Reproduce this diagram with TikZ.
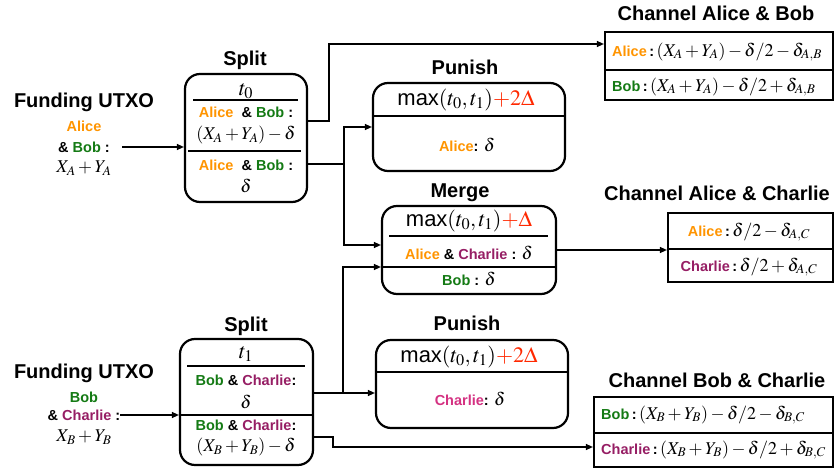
\documentclass[tikz,border=0pt]{standalone}
\usepackage{mathptmx}
\usepackage{fontspec}
\setmainfont{Liberation Serif}
\setsansfont{Liberation Sans}
\usetikzlibrary{arrows.meta}
\definecolor{alice}{RGB}{255,148,0}
\definecolor{bob}{RGB}{20,122,20}
\definecolor{charlie}{RGB}{150,30,100}
\definecolor{charliep}{RGB}{212,50,130}
\definecolor{dred}{RGB}{255,40,0}
\newcommand\colA{\color{alice}}
\newcommand\colB{\color{bob}}
\newcommand\colC{\color{charlie}}
\newcommand\colP{\color{charliep}}
\newcommand\colK{\color{black}}
\newcommand\Mm[1]{{\fontsize{18}{20}\selectfont$#1$}}
\newcommand\Mc[1]{{\fontsize{18}{20}\selectfont$#1$}}
\newcommand\MaxT[1]{{\fontsize{22}{24}\selectfont\textsf{max}$(t_0,t_1)$\textcolor{dred}{$+#1\Delta$}}}
\tikzset{
  lbl/.style={inner sep=0, font=\fontsize{14.5}{16}\sffamily\bfseries\selectfont},
  mth/.style={inner sep=0, font=\fontsize{18}{20}\selectfont},
  ttl/.style={inner sep=0, font=\fontsize{20}{22}\sffamily\bfseries\selectfont},
  rbox/.style={draw, line width=2.2pt, rounded corners=15pt, inner sep=0},
  cbox/.style={draw, line width=2.2pt, inner sep=0},
  sep/.style={line width=1.4pt},
  ln/.style={line width=1.3pt},
  arr/.style={line width=1.3pt, -{Triangle[length=7pt,width=6pt]}}
}
\begin{document}
\begin{tikzpicture}[x=1pt,y=-1pt]
\useasboundingbox (0,0) rectangle (835,470);

% ---------- Funding A ----------
\node[ttl] (tFA) at (84,102) {Funding UTXO};
\node[lbl] (fa1) at (84,126) {\colA Alice};
\node[lbl] (fa2) at (84,147) {\& \colB Bob \colK:};
\node[mth] (fa3) at (84,168) {$X_A+Y_A$};

% ---------- Split A ----------
\node[ttl] (tSA) at (245,60) {Split};
\node[rbox, minimum width=122pt, minimum height=128pt] (splitA) at (246,138) {};
\node[mth] (sa0) at (246,91) {\fontsize{22}{24}\selectfont$t_0$};
\draw[sep] (193,100) -- (298,100);
\node[lbl] (sa1) at (246,112) {\colA Alice \ \colK\& \colB Bob \colK:};
\node[mth] (sa2) at (246,135) {$(X_A+Y_A)-\delta$};
\draw[sep] (188,151) -- (301,151);
\node[lbl] (sa3) at (246,165) {\colA Alice \ \colK\& \colB Bob \colK:};
\node[mth] (sa4) at (246,186) {$\delta$};

% ---------- Punish A ----------
\node[ttl] (tPA) at (465,67) {Punish};
\node[rbox, minimum width=192pt, minimum height=88pt] (punA) at (469,127) {};
\node[mth] (pa0) at (466,100) {\MaxT{2}};
\draw[sep] (punA.west |- 0,116) -- (punA.east |- 0,116);
\node[lbl] (pa1) at (467,145) {\colA Alice\colK: \Mm{\delta}};

% ---------- Merge ----------
\node[ttl] (tM) at (460,193) {Merge};
\node[rbox, minimum width=174pt, minimum height=88pt] (merge) at (469,250) {};
\node[mth] (m0) at (469,221) {\MaxT{}};
\draw[sep] (389,236) -- (548,236);
\node[lbl] (m1) at (469,253) {\colA Alice \colK\& \colC Charlie \colK: \Mm{\delta}};
\draw[sep] (merge.west |- 0,267) -- (merge.east |- 0,267);
\node[lbl] (m2) at (469,279) {\colB Bob \colK: \Mm{\delta}};

% ---------- Punish B ----------
\node[ttl] (tPB) at (467,323) {Punish};
\node[rbox, minimum width=192pt, minimum height=88pt] (punB) at (472,384) {};
\node[mth] (pb0) at (469,357) {\MaxT{2}};
\draw[sep] (punB.west |- 0,372) -- (punB.east |- 0,372);
\node[lbl] (pb1) at (470,399) {\colP Charlie\colK: \Mm{\delta}};

% ---------- Funding B ----------
\node[ttl] (tFB) at (84,373) {Funding UTXO};
\node[lbl] (fb1) at (84,397) {\colB Bob};
\node[lbl] (fb2) at (84,415) {\& \colC Charlie \colK:};
\node[mth] (fb3) at (84,437) {$X_B+Y_B$};

% ---------- Split B ----------
\node[ttl] (tSB) at (246,326) {Split};
\node[rbox, minimum width=133pt, minimum height=126pt] (splitB) at (246.5,402) {};
\node[mth] (sb0) at (246,354) {\fontsize{22}{24}\selectfont$t_1$};
\draw[sep] (187,366) -- (305,366);
\node[lbl] (sb1) at (246,380) {\colB Bob \colK\& \colC Charlie\colK:};
\node[mth] (sb2) at (246,402) {$\delta$};
\draw[sep] (splitB.west |- 0,415) -- (splitB.east |- 0,415);
\node[lbl] (sb3) at (246,425) {\colB Bob \colK\& \colC Charlie\colK:};
\node[mth] (sb4) at (246,447) {$(X_B+Y_B)-\delta$};

% ---------- Channel A & B ----------
\node[ttl] (tAB) at (716,13) {Channel Alice \& Bob};
\node[cbox, minimum width=228pt, minimum height=68pt] (chAB) at (719,66) {};
\draw[sep] (chAB.west |- 0,70) -- (chAB.east |- 0,70);
\node[lbl, anchor=west] (ab1) at (612,52) {\colA Alice\colK\,:\,\Mc{(X_A+Y_A)-\delta/2-\delta_{A,B}}};
\node[lbl, anchor=west] (ab2) at (612,87) {\colB Bob\colK\,:\,\Mc{(X_A+Y_A)-\delta/2+\delta_{A,B}}};

% ---------- Channel A & C ----------
\node[ttl] (tAC) at (717,193) {Channel Alice \& Charlie};
\node[cbox, minimum width=165pt, minimum height=69pt] (chAC) at (750.5,247.5) {};
\draw[sep] (chAC.west |- 0,249) -- (chAC.east |- 0,249);
\node[lbl] (ac1) at (749,232) {\colA Alice\colK\,:\,\Mc{\delta/2-\delta_{A,C}}};
\node[lbl] (ac2) at (749,267) {\colC Charlie\colK\,:\,\Mc{\delta/2+\delta_{A,C}}};

% ---------- Channel B & C ----------
\node[ttl] (tBC) at (717,380) {Channel Bob \& Charlie};
\node[cbox, minimum width=239pt, minimum height=70pt] (chBC) at (713.5,432) {};
\draw[sep] (chBC.west |- 0,433) -- (chBC.east |- 0,433);
\node[lbl, anchor=west] (bc1) at (601,415) {\colB Bob\colK\,:\,\Mc{(X_B+Y_B)-\delta/2-\delta_{B,C}}};
\node[lbl, anchor=west] (bc2) at (601,450) {\colC Charlie\colK\,:\,\Mc{(X_B+Y_B)-\delta/2+\delta_{B,C}}};

% ---------- connectors ----------
\coordinate (fA) at (122,147);
\draw[arr] (fA) -- (fA -| splitA.west);
\coordinate (fB) at (120,415);
\draw[arr] (fB) -- (fB -| splitB.west);

\coordinate (a1) at (329,121);
\coordinate (a2) at (329,44);
\draw[arr] (splitA.east |- a1) -- (a1) -- (a2) -- (a2 -| chAB.west);

\coordinate (b1) at (344,164);
\coordinate (b2) at (344,127);
\coordinate (b3) at (344,245);
\draw[ln] (splitA.east |- b1) -- (b1);
\draw[arr] (b1) -- (b2) -- (b2 -| punA.west);
\draw[arr] (b1) -- (b3) -- (b3 -| merge.west);

\coordinate (c1) at (343,393);
\coordinate (c2) at (343,267);
\draw[arr] (splitB.east |- c1) -- (c1 -| punB.west);
\draw[arr] (c1) -- (c2) -- (c2 -| merge.west);

\coordinate (d1) at (333,437);
\coordinate (d2) at (333,447);
\draw[arr] (splitB.east |- d1) -- (d1) -- (d2) -- (d2 -| chBC.west);

\draw[arr] (merge.east) -- (merge.east -| chAC.west);
\end{tikzpicture}
\end{document}
